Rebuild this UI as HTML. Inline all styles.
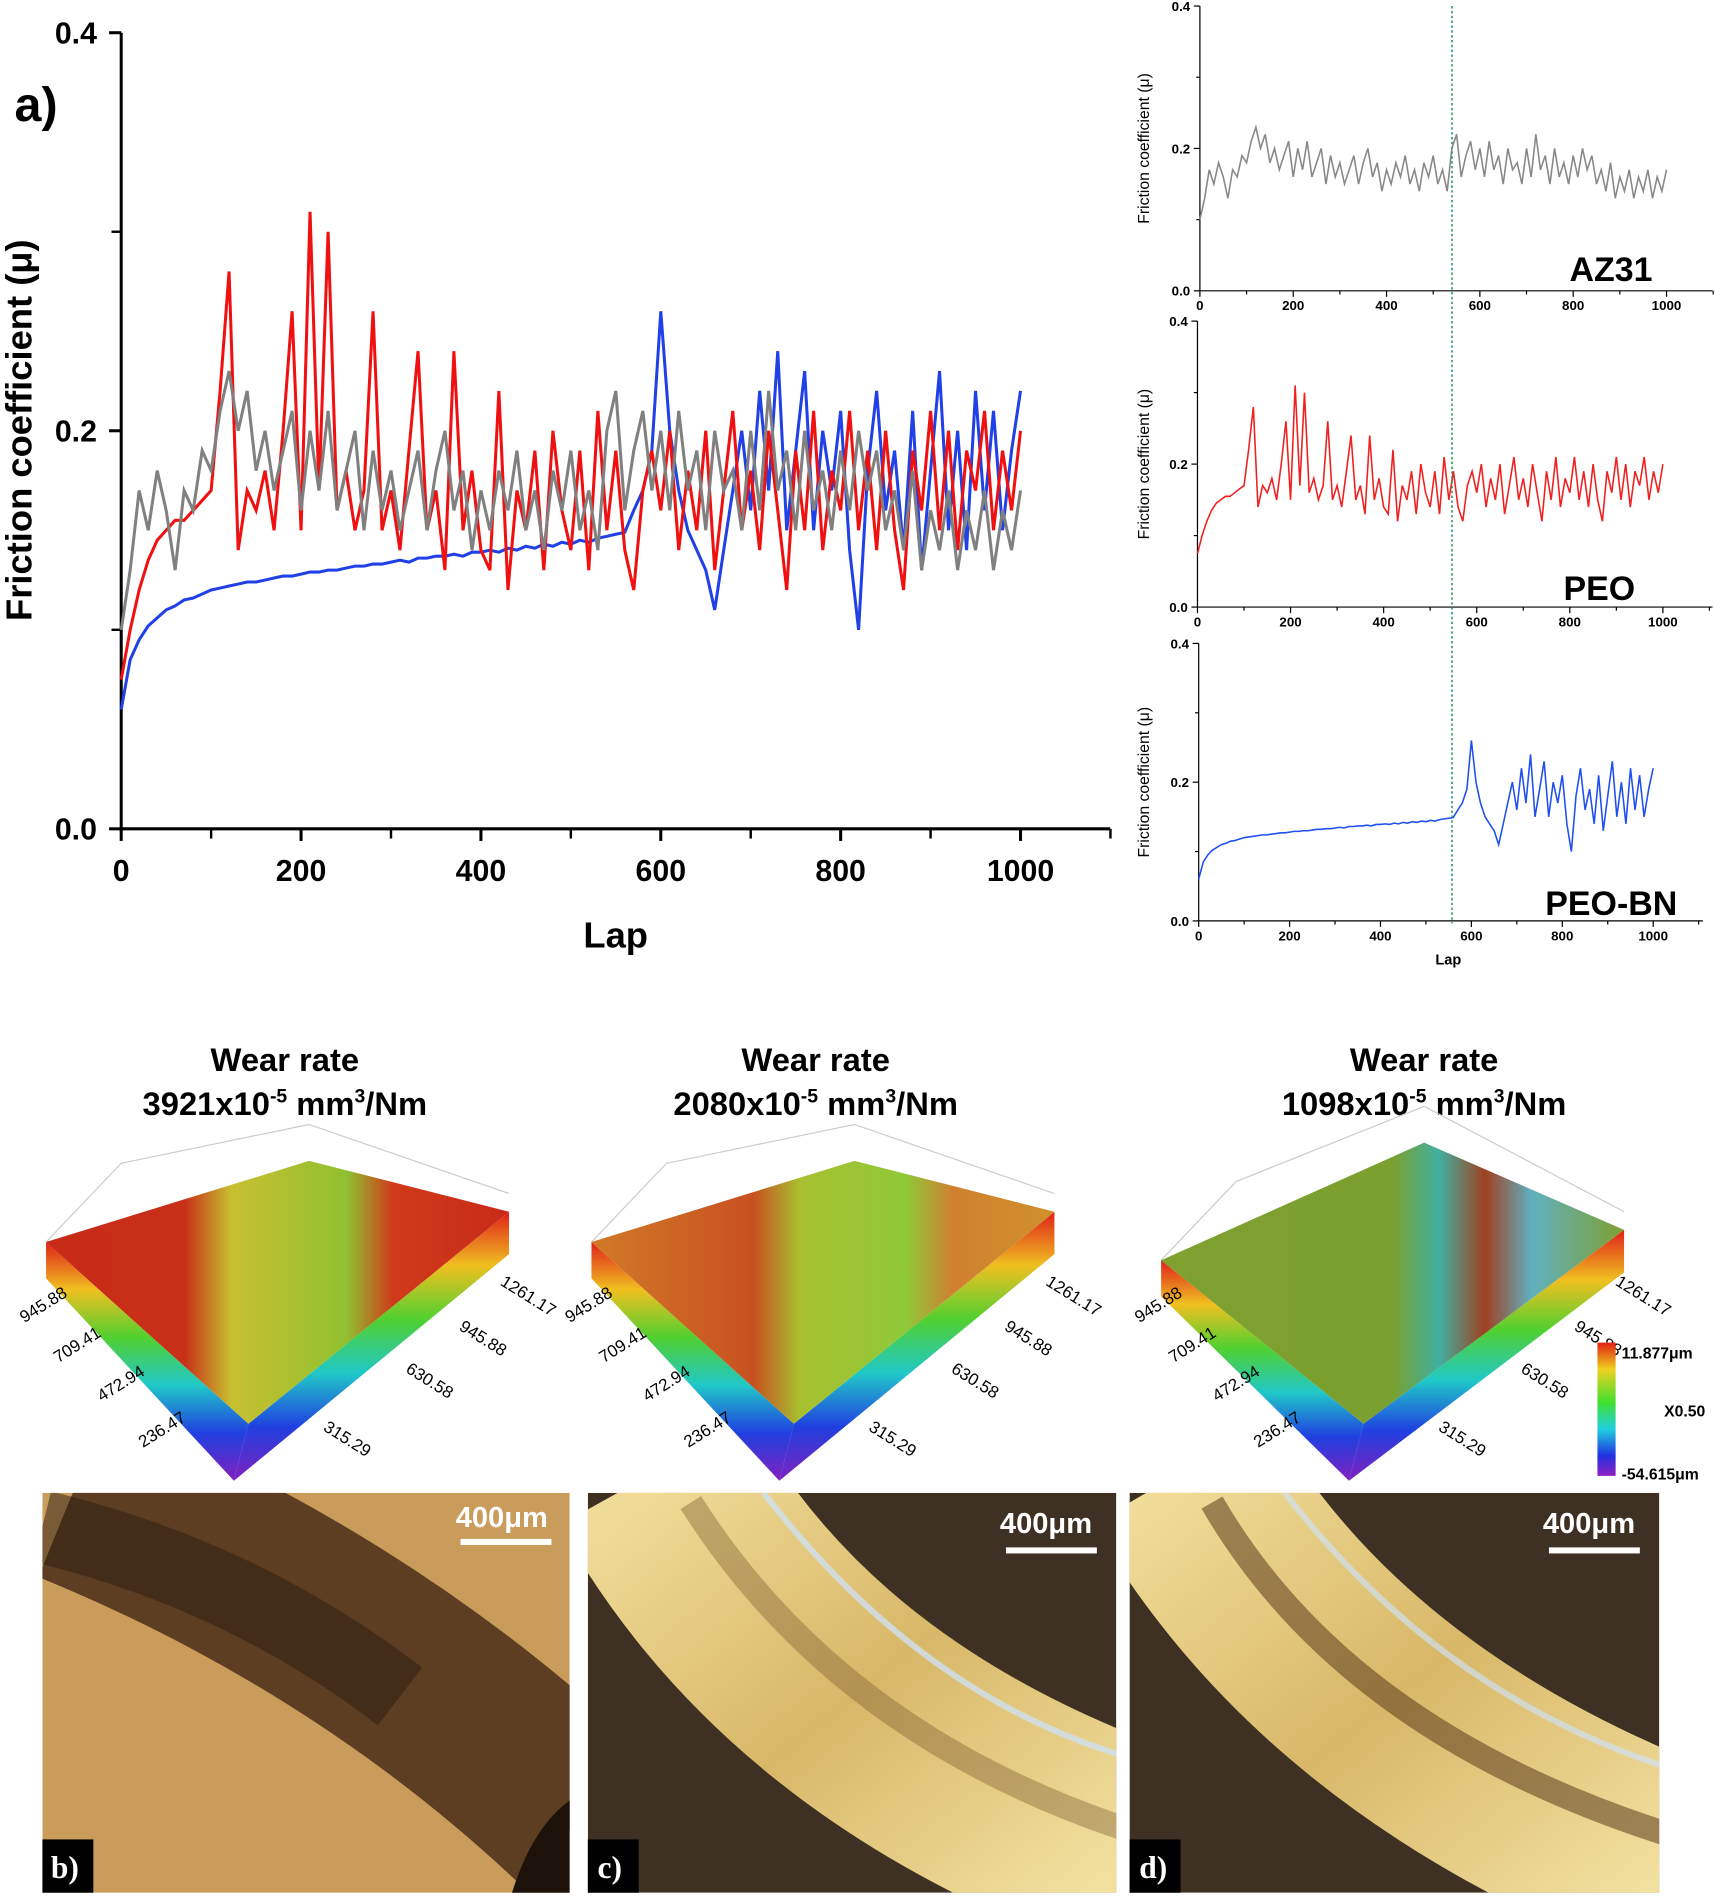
<!DOCTYPE html>
<html><head><meta charset="utf-8"><style>
html,body{margin:0;padding:0;background:#fff;width:1715px;height:1900px;overflow:hidden}
svg text{font-family:"Liberation Sans",sans-serif}
</style></head><body>
<svg id="fig" width="1715" height="1900" viewBox="0 0 1415 1568" preserveAspectRatio="none" xmlns="http://www.w3.org/2000/svg">
<defs>
<linearGradient id="rainbow" x1="0" y1="0" x2="0" y2="1">
<stop offset="0" stop-color="#e0201a"/><stop offset="0.2" stop-color="#f0c020"/><stop offset="0.4" stop-color="#50d030"/><stop offset="0.6" stop-color="#20c8c8"/><stop offset="0.8" stop-color="#2040e0"/><stop offset="1" stop-color="#8020c0"/></linearGradient>
<linearGradient id="topA" x1="0" y1="0" x2="1" y2="0">
<stop offset="0" stop-color="#c82a18"/><stop offset="0.3" stop-color="#c83018"/><stop offset="0.4" stop-color="#c8c030"/><stop offset="0.65" stop-color="#90c030"/><stop offset="0.75" stop-color="#d03a1a"/><stop offset="1" stop-color="#c82a18"/></linearGradient>
<linearGradient id="topB" x1="0" y1="0" x2="1" y2="0">
<stop offset="0" stop-color="#d07a28"/><stop offset="0.35" stop-color="#c85020"/><stop offset="0.45" stop-color="#a8c030"/><stop offset="0.68" stop-color="#90c838"/><stop offset="0.78" stop-color="#d08030"/><stop offset="1" stop-color="#d0902a"/></linearGradient>
<linearGradient id="topC" x1="0" y1="0" x2="1" y2="0">
<stop offset="0" stop-color="#80a030"/><stop offset="0.5" stop-color="#7aa030"/><stop offset="0.6" stop-color="#40b0a0"/><stop offset="0.7" stop-color="#a04020"/><stop offset="0.8" stop-color="#60b0c0"/><stop offset="1" stop-color="#7fa030"/></linearGradient>
<linearGradient id="cbar" x1="0" y1="0" x2="0" y2="1">
<stop offset="0" stop-color="#e02010"/><stop offset="0.2" stop-color="#f0d020"/><stop offset="0.45" stop-color="#40e030"/><stop offset="0.65" stop-color="#20d0e0"/><stop offset="0.85" stop-color="#2030e0"/><stop offset="1" stop-color="#9020c0"/></linearGradient>
<linearGradient id="gold" x1="0" y1="0" x2="1" y2="1">
<stop offset="0" stop-color="#f0dc98"/><stop offset="0.5" stop-color="#d8b868"/><stop offset="1" stop-color="#f2e0a0"/></linearGradient>
<clipPath id="cb"><rect x="35" y="1232" width="435" height="330"/></clipPath>
<clipPath id="cc"><rect x="485" y="1232" width="436" height="330"/></clipPath>
<clipPath id="cd"><rect x="932" y="1232" width="437" height="330"/></clipPath>
</defs>

<g id="main">
<text x="12" y="100" font-size="40" font-weight="bold">a)</text>
<text transform="translate(26,355) rotate(-90)" text-anchor="middle" font-size="30" font-weight="bold">Friction coefficient (μ)</text>
<text x="508" y="782" text-anchor="middle" font-size="30" font-weight="bold">Lap</text>
<g id="mainAxes"></g>
<g id="mainLines"></g>
</g>

<g id="panels"></g>
<line x1="1198" y1="5" x2="1198" y2="762" stroke="#2a9a5a" stroke-width="1.3" stroke-dasharray="2,2"/>
<text x="1195" y="796" text-anchor="middle" font-size="12" font-weight="bold">Lap</text>

<g font-size="27" font-weight="bold" text-anchor="middle">
<text x="235" y="884">Wear rate</text>
<text x="235" y="920">3921x10<tspan dy="-10" font-size="16">-5</tspan><tspan dy="10"> mm</tspan><tspan dy="-10" font-size="16">3</tspan><tspan dy="10">/Nm</tspan></text>
<text x="673" y="884">Wear rate</text>
<text x="673" y="920">2080x10<tspan dy="-10" font-size="16">-5</tspan><tspan dy="10"> mm</tspan><tspan dy="-10" font-size="16">3</tspan><tspan dy="10">/Nm</tspan></text>
<text x="1175" y="884">Wear rate</text>
<text x="1175" y="920">1098x10<tspan dy="-10" font-size="16">-5</tspan><tspan dy="10"> mm</tspan><tspan dy="-10" font-size="16">3</tspan><tspan dy="10">/Nm</tspan></text>
</g>

<g id="surfaces"></g>

<rect x="1318" y="1108" width="15" height="110" fill="url(#cbar)"/>
<g font-size="13" font-weight="bold">
<text x="1338" y="1121">11.877μm</text>
<text x="1373" y="1169">X0.50</text>
<text x="1338" y="1221">-54.615μm</text>
</g>

<g clip-path="url(#cb)">
<rect x="35" y="1232" width="435" height="330" fill="#c99c5c"/>
<path d="M60 1232 Q 300 1330 480 1500" stroke="#4a2e18" stroke-width="150" fill="none" opacity="0.85"/>
<path d="M35 1260 Q 200 1300 330 1400" stroke="#2a1a0e" stroke-width="60" fill="none" opacity="0.5"/>
<path d="M420 1570 Q 440 1500 480 1480 L480 1570Z" fill="#1c120a"/>
</g>
<g clip-path="url(#cc)">
<rect x="485" y="1232" width="436" height="330" fill="#3e3022"/>
<path d="M540 1215 Q 660 1430 940 1530" stroke="url(#gold)" stroke-width="180" fill="none"/>
<path d="M570 1240 Q 690 1430 930 1510" stroke="#7a5a30" stroke-width="20" fill="none" opacity="0.4"/>
<path d="M630 1232 Q 760 1400 930 1450" stroke="#d0e0f0" stroke-width="5" fill="none" opacity="0.8"/>
</g>
<g clip-path="url(#cd)">
<rect x="932" y="1232" width="437" height="330" fill="#3e3022"/>
<path d="M975 1215 Q 1100 1430 1385 1540" stroke="url(#gold)" stroke-width="170" fill="none"/>
<path d="M1000 1240 Q 1110 1430 1380 1515" stroke="#5a3a1c" stroke-width="20" fill="none" opacity="0.55"/>
<path d="M1060 1232 Q 1190 1400 1380 1460" stroke="#d0e0f0" stroke-width="5" fill="none" opacity="0.7"/>
</g>
<g font-size="24" font-weight="bold" fill="#fff">
<text x="376" y="1260">400μm</text>
<rect x="380" y="1270" width="75" height="5" fill="#fff"/>
<text x="825" y="1265">400μm</text>
<rect x="830" y="1277" width="75" height="5" fill="#fff"/>
<text x="1273" y="1265">400μm</text>
<rect x="1278" y="1277" width="75" height="5" fill="#fff"/>
</g>
<g font-size="26" font-weight="bold">
<rect x="35" y="1518" width="42" height="44" fill="#000"/><text x="42" y="1550" fill="#fff" style="font-family:'Liberation Serif',serif">b)</text>
<rect x="485" y="1518" width="42" height="44" fill="#000"/><text x="493" y="1550" fill="#fff" style="font-family:'Liberation Serif',serif">c)</text>
<rect x="932" y="1518" width="42" height="44" fill="#000"/><text x="940" y="1550" fill="#fff" style="font-family:'Liberation Serif',serif">d)</text>
</g>
</svg>
<script>
const laps = [];
for (let i = 0; i <= 100; i++) laps.push(i * 10);
const peoBn = [0.06,0.085,0.095,0.102,0.106,0.11,0.112,0.115,0.116,0.118,0.12,0.121,0.122,0.123,0.124,0.124,0.125,0.126,0.127,0.127,0.128,0.129,0.129,0.13,0.13,0.131,0.132,0.132,0.133,0.133,0.134,0.135,0.134,0.136,0.136,0.137,0.137,0.138,0.137,0.139,0.139,0.14,0.139,0.141,0.14,0.142,0.141,0.143,0.142,0.144,0.143,0.145,0.144,0.146,0.147,0.148,0.149,0.16,0.17,0.19,0.26,0.2,0.17,0.15,0.14,0.13,0.11,0.14,0.17,0.2,0.16,0.22,0.17,0.24,0.15,0.19,0.23,0.15,0.2,0.17,0.21,0.14,0.1,0.18,0.22,0.16,0.19,0.14,0.21,0.13,0.18,0.23,0.15,0.2,0.14,0.22,0.16,0.21,0.15,0.19,0.22];
const peo = [0.075,0.1,0.12,0.135,0.145,0.15,0.155,0.155,0.16,0.165,0.17,0.22,0.28,0.14,0.17,0.16,0.18,0.15,0.2,0.26,0.15,0.31,0.17,0.3,0.16,0.18,0.15,0.17,0.26,0.15,0.17,0.14,0.19,0.24,0.15,0.17,0.13,0.24,0.15,0.18,0.14,0.13,0.22,0.12,0.17,0.15,0.19,0.13,0.2,0.16,0.14,0.19,0.13,0.21,0.15,0.19,0.14,0.12,0.17,0.19,0.16,0.2,0.14,0.18,0.15,0.2,0.13,0.17,0.21,0.15,0.18,0.14,0.2,0.16,0.12,0.19,0.15,0.21,0.14,0.18,0.16,0.21,0.15,0.19,0.14,0.2,0.15,0.12,0.19,0.16,0.21,0.15,0.2,0.14,0.19,0.17,0.21,0.15,0.19,0.16,0.2];
const az31 = [0.1,0.13,0.17,0.15,0.18,0.16,0.13,0.17,0.16,0.19,0.18,0.21,0.23,0.2,0.22,0.18,0.2,0.17,0.19,0.21,0.16,0.2,0.17,0.21,0.16,0.18,0.2,0.15,0.19,0.16,0.18,0.15,0.17,0.19,0.15,0.18,0.2,0.16,0.18,0.14,0.17,0.15,0.18,0.16,0.19,0.15,0.17,0.14,0.18,0.16,0.19,0.15,0.17,0.14,0.2,0.22,0.16,0.19,0.21,0.17,0.2,0.16,0.21,0.17,0.19,0.15,0.2,0.17,0.18,0.15,0.2,0.16,0.22,0.17,0.19,0.15,0.2,0.16,0.18,0.15,0.19,0.16,0.2,0.17,0.19,0.15,0.17,0.14,0.18,0.13,0.16,0.14,0.17,0.13,0.16,0.14,0.17,0.13,0.16,0.14,0.17];
const xTicks = [0,200,400,600,800,1000];
const yTicks = [0.0,0.2,0.4];

const NS = 'http://www.w3.org/2000/svg';
function mk(tag, attrs, parent) {
  const e = document.createElementNS(NS, tag);
  for (const k in attrs) e.setAttribute(k, attrs[k]);
  parent.appendChild(e);
  return e;
}
const mx = l => 100 + l * 0.742;
const my = v => 684 - v * 1642.5;
const ma = document.getElementById('mainAxes');
const yAx = mk('line', {x1:100,y1:27,x2:100,y2:686,stroke:'#000','stroke-width':2.5}, ma);


const xAx = mk('line', {x1:99,y1:684,x2:916,y2:684,stroke:'#000','stroke-width':2.5}, ma);


for (let l = 100; l <= 1100; l += 100) mk('line', {x1:mx(l),y1:684,x2:mx(l),y2:692,stroke:'#000','stroke-width':2}, ma);
xTicks.forEach(t => {
  mk('line', {x1:mx(t),y1:684,x2:mx(t),y2:694,stroke:'#000','stroke-width':2.5}, ma);
  const tx = mk('text', {x:mx(t),y:727,'text-anchor':'middle','font-size':25,'font-weight':'bold'}, ma);
  tx.textContent = t;
  
  
});
[0.1,0.3].forEach(t => mk('line', {x1:92,y1:my(t),x2:100,y2:my(t),stroke:'#000','stroke-width':2}, ma));
yTicks.forEach(t => {
  mk('line', {x1:90,y1:my(t),x2:100,y2:my(t),stroke:'#000','stroke-width':2.5}, ma);
  const tx = mk('text', {x:80,y:my(t)+9,'text-anchor':'end','font-size':25,'font-weight':'bold'}, ma);
  tx.textContent = t.toFixed(1);
  
  
});
function pathD(vals, fx, fy) {
  return vals.map((v, i) => (i ? 'L' : 'M') + fx(laps[i]).toFixed(1) + ' ' + fy(v).toFixed(1)).join(' ');
}
const ml = document.getElementById('mainLines');
const pB = mk('path', {d:pathD(peoBn, mx, my),stroke:'#2040e8',fill:'none','stroke-width':2.5}, ml);


const pR = mk('path', {d:pathD(peo, mx, my),stroke:'#f01010',fill:'none','stroke-width':2.5}, ml);


const pG = mk('path', {d:pathD(az31, mx, my),stroke:'#808080',fill:'none','stroke-width':2.5}, ml);



const panels = [
  {name:'az31', vals:az31, color:'#888', x0:990, x1:1375, xe:1413, y0:240, y4:5, label:'AZ31', lx:1295, ly:232},
  {name:'peo', vals:peo, color:'#f02020', x0:988, x1:1372, xe:1413, y0:501, y4:265, label:'PEO', lx:1290, ly:495},
  {name:'peo-bn', vals:peoBn, color:'#2050f0', x0:989, x1:1364, xe:1405, y0:760, y4:531, label:'PEO-BN', lx:1275, ly:755}
];
const pg = document.getElementById('panels');
panels.forEach(p => {
  const g = mk('g', {}, pg);
  
  
  const fx = l => p.x0 + l * (p.x1 - p.x0) / 1000;
  const fy = v => p.y0 - v * (p.y0 - p.y4) / 0.4;
  mk('line', {x1:p.x0,y1:p.y4,x2:p.x0,y2:p.y0,stroke:'#000','stroke-width':1}, g);
  mk('line', {x1:p.x0,y1:p.y0,x2:p.xe,y2:p.y0,stroke:'#000','stroke-width':1}, g);
  for (let l = 0; l <= 1100; l += 100) mk('line', {x1:fx(l),y1:p.y0,x2:fx(l),y2:p.y0+(l%200?3:5),stroke:'#000'}, g);
  xTicks.forEach(t => {
    const tx = mk('text', {x:fx(t),y:p.y0+16,'text-anchor':'middle','font-size':11,'font-weight':'bold'}, g);
    tx.textContent = t;
    
    
  });
  [0,0.1,0.2,0.3,0.4].forEach(t => mk('line', {x1:p.x0-(t*10%2?3:5),y1:fy(t),x2:p.x0,y2:fy(t),stroke:'#000'}, g));
  yTicks.forEach(t => {
    const tx = mk('text', {x:p.x0-8,y:fy(t)+4,'text-anchor':'end','font-size':11,'font-weight':'bold'}, g);
    tx.textContent = t.toFixed(1);
    
    
  });
  const yt = mk('text', {transform:`translate(948,${(p.y0+p.y4)/2}) rotate(-90)`,'text-anchor':'middle','font-size':13}, g);
  yt.textContent = 'Friction coefficient (μ)';
  
  
  const ln = mk('path', {d:pathD(p.vals, fx, fy),stroke:p.color,fill:'none','stroke-width':1.3}, g);
  
  
  const lb = mk('text', {x:p.lx,y:p.ly,'font-size':28,'font-weight':'bold'}, g);
  lb.textContent = p.label;
  
  
});

const sg = document.getElementById('surfaces');
[{dx:0,fill:'url(#topA)',n:'az31'},{dx:450,fill:'url(#topB)',n:'peo'},{dx:920,fill:'url(#topC)',n:'peo-bn'}].forEach((s, i) => {
  const g = mk('g', {transform:`translate(${s.dx},0)`}, sg);
  
  
  const sh = i === 2 ? 15 : 0;
  const L = [38, 1025 + sh], B = [255, 958 - sh], R = [420, 1000 + sh], F = [205, 1175];
  mk('polyline', {points:`${L[0]},${L[1]} 100,${L[1]-65} ${B[0]},${B[1]-30} ${R[0]},${R[1]-15}`, fill:'none', stroke:'#ccc','stroke-width':1}, g);
  mk('polygon', {points:`${L[0]},${L[1]} ${F[0]},${F[1]} 193,1222 38,${L[1]+30}`, fill:'url(#rainbow)'}, g);
  mk('polygon', {points:`${F[0]},${F[1]} ${R[0]},${R[1]} ${R[0]},${R[1]+35} 193,1222`, fill:'url(#rainbow)'}, g);
  mk('polygon', {points:`${L[0]},${L[1]} ${B[0]},${B[1]} ${R[0]},${R[1]} ${F[0]},${F[1]}`, fill:s.fill}, g);
  const T = [['945.88',20,1092,-32],['709.41',48,1125,-32],['472.94',84,1157,-32],['236.47',118,1195,-32],
             ['1261.17',412,1060,32],['945.88',378,1097,32],['630.58',334,1132,32],['315.29',266,1180,32]];
  T.forEach(a => {
    const t = mk('text', {transform:`translate(${a[1]},${a[2]}) rotate(${a[3]})`,'font-size':14}, g);
    t.textContent = a[0];
    
    
  });
});
</script>
</body></html>
